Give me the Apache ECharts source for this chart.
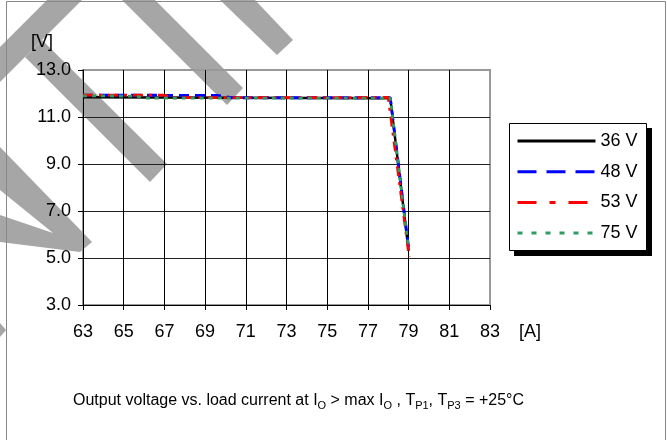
<!DOCTYPE html>
<html><head><meta charset="utf-8">
<script src="https://cdn.jsdelivr.net/npm/echarts@6/dist/echarts.min.js"></script>
<style>html,body{margin:0;padding:0;background:#fff}#c{width:667px;height:440px}</style>
</head><body><div id="c"></div>
<script>
// ---- data ----
const seriesNames = ['36 V', '48 V', '53 V', '75 V'];
const current36 = [63.0, 78.1, 79.0];
const voltage36 = [11.84, 11.80, 5.30];
const current48 = [63.0, 69.6, 70.3, 78.1, 79.0];
const voltage48 = [11.93, 11.92, 11.82, 11.82, 5.45];
const current53 = [63.0, 67.0, 67.4, 78.0, 79.03];
const voltage53 = [11.93, 11.93, 11.82, 11.83, 5.05];
const current75 = [63.0, 65.6, 66.1, 78.1, 78.97];
const voltage75 = [11.90, 11.89, 11.80, 11.80, 5.60];
const xRange = [63, 83, 2];
const yRange = [3, 13, 2];
const xUnit = '[A]';
const yUnit = '[V]';

const pairs = (xs, ys) => xs.map((x, i) => [x, ys[i]]);
const FONT = '"Liberation Sans", Arial, sans-serif';
const chart = echarts.init(document.getElementById('c'), null, {renderer: 'canvas'});
const gray = '#a6a6a6';
const stripes = [
  [[47,0],[82,0],[0,82],[0,47]],
  [[42,40],[167,164],[150,182],[25,57]],
  [[122,0],[155,0],[243,88],[227,105]],
  [[220,0],[255,0],[293,40],[277,55]],
  [[0,147],[92,242],[80,252],[0,242],[0,215],[53,233],[0,190]],
  [[0,323],[6,330],[0,337]]
];
const graphics = stripes.map(p => ({type: 'polygon', z: -10, silent: true, shape: {points: p}, style: {fill: gray}}));
graphics.push({type: 'rect', z: -5, silent: true, shape: {x: 6.5, y: 1.5, width: 659, height: 460}, style: {fill: 'none', stroke: '#888', lineWidth: 1}});
graphics.push({type: 'rect', z: 1, silent: true, shape: {x: 514, y: 128, width: 138, height: 128}, style: {fill: '#000'}});
graphics.push({type: 'rect', z: 2, silent: true, shape: {x: 509.5, y: 123.5, width: 137, height: 127}, style: {fill: '#fff', stroke: '#000', lineWidth: 1}});
graphics.push({type: 'text', left: 31, top: 33, z: 5, style: {text: yUnit, font: '18px ' + FONT, fill: '#000'}});
graphics.push({type: 'text', left: 519, top: 323, z: 5, style: {text: xUnit, font: '18px ' + FONT, fill: '#000'}});

const mk = (name, data, color, type, width) => ({
  name, type: 'line', data, symbol: 'none', animation: false, z: 3,
  lineStyle: {color, width, type, cap: 'butt'}, itemStyle: {color}
});
const noSym = {color: 'rgba(0,0,0,0)', borderWidth: 0, borderColor: 'rgba(0,0,0,0)'};

chart.setOption({
  backgroundColor: '#fff',
  animation: false,
  textStyle: {fontFamily: FONT},
  title: {
    left: 68, top: 386,
    text: 'Output voltage vs. load current at I{s|O} > max I{s|O} , T{s|P1}, T{s|P3} = +25°C',
    textStyle: {
      fontFamily: FONT, fontSize: 16, fontWeight: 'normal', color: '#000', lineHeight: 20,
      rich: {s: {fontFamily: FONT, fontSize: 11, lineHeight: 11, verticalAlign: 'bottom', color: '#000'}}
    }
  },
  grid: {left: 83, top: 70, width: 407, height: 235, show: true, borderColor: '#999', borderWidth: 2, backgroundColor: 'transparent'},
  xAxis: {
    type: 'value', min: xRange[0], max: xRange[1], interval: xRange[2],
    axisLine: {lineStyle: {color: '#000', width: 1}},
    axisTick: {show: true, length: 5, lineStyle: {color: '#000'}},
    axisLabel: {fontSize: 18, color: '#000', margin: 18, fontFamily: FONT},
    splitLine: {show: true, lineStyle: {color: ['#000','#000','#000','#000','#000','#000','#000','#000','#000','#000','#999'], width: 1}}
  },
  yAxis: {
    type: 'value', min: yRange[0], max: yRange[1], interval: yRange[2],
    axisLine: {show: true, lineStyle: {color: '#000', width: 1}},
    axisTick: {show: true, length: 5, lineStyle: {color: '#000'}},
    axisLabel: {fontSize: 18, color: '#000', margin: 12, fontFamily: FONT, formatter: v => v.toFixed(1)},
    splitLine: {show: true, lineStyle: {color: ['#000','#222','#222','#222','#222','#999'], width: 1}}
  },
  legend: {
    orient: 'vertical', left: 509, top: 123, z: 5,
    backgroundColor: 'transparent', borderWidth: 0,
    padding: [9, 10, 10, 7], itemWidth: 78, itemHeight: 14, itemGap: 12.7,
    textStyle: {fontSize: 18, color: '#000', fontFamily: FONT},
    data: [
      {name: seriesNames[0], lineStyle: {type: 'solid', width: 3}, itemStyle: noSym},
      {name: seriesNames[1], lineStyle: {type: [19, 10], width: 3}, itemStyle: noSym},
      {name: seriesNames[2], lineStyle: {type: [19, 13, 6, 13], width: 3}, itemStyle: noSym},
      {name: seriesNames[3], lineStyle: {type: [5, 9], width: 3}, itemStyle: noSym}
    ]
  },
  graphic: graphics,
  series: [
    mk(seriesNames[0], pairs(current36, voltage36), '#000000', 'solid', 2.5),
    mk(seriesNames[1], pairs(current48, voltage48), '#0000ff', [10, 6], 2.8),
    mk(seriesNames[2], pairs(current53, voltage53), '#ff0000', [10, 6, 3, 6], 2.8),
    mk(seriesNames[3], pairs(current75, voltage75), '#2e9b5f', [4, 5], 2.8)
  ]
});
</script></body></html>
